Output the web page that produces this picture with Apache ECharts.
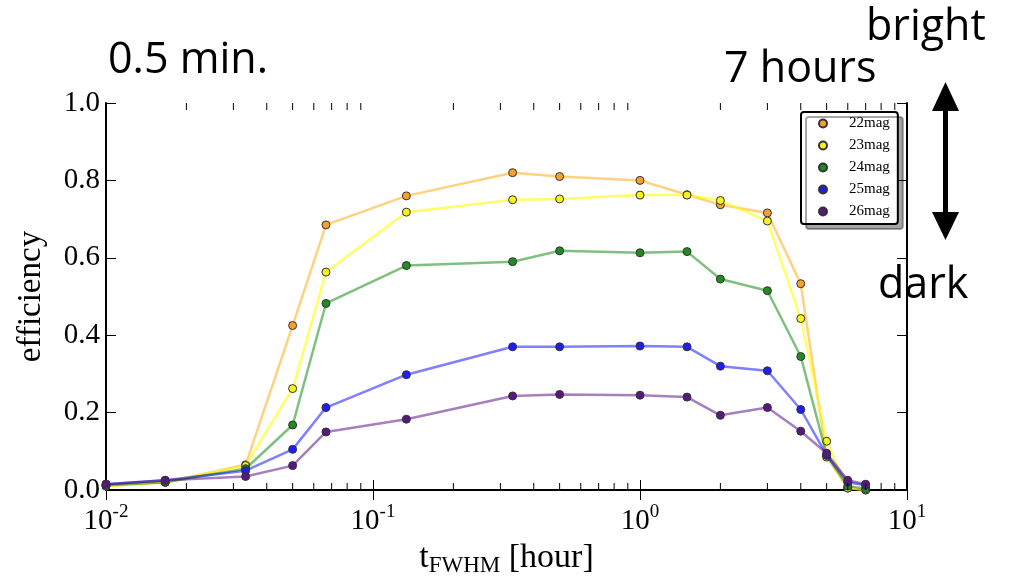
<!DOCTYPE html>
<html>
<head>
<meta charset="utf-8">
<script src="https://cdn.jsdelivr.net/npm/echarts@6/dist/echarts.min.js"></script>
<style>
  html, body { margin: 0; padding: 0; background: #fff; }
  #chart { width: 1010px; height: 576px; }
</style>
</head>
<body>
<div id="chart"></div>
<script>
// exposure durations in hours
const xHours = [0.01, 1 / 60, 2 / 60, 3 / 60, 4 / 60, 8 / 60, 20 / 60, 0.5, 1, 1.5, 2, 3, 4, 5, 6, 7];

const mag22 = [0.01, 0.02, 0.065, 0.425, 0.685, 0.76, 0.82, 0.81, 0.80, 0.763, 0.737, 0.716, 0.533, 0.085, 0.005, 0.0];
const mag23 = [0.01, 0.02, 0.063, 0.262, 0.563, 0.718, 0.75, 0.752, 0.762, 0.762, 0.748, 0.695, 0.443, 0.126, 0.005, 0.0];
const mag24 = [0.012, 0.02, 0.055, 0.168, 0.482, 0.58, 0.59, 0.618, 0.613, 0.616, 0.545, 0.515, 0.345, 0.09, 0.01, 0.003];
const mag25 = [0.015, 0.025, 0.05, 0.105, 0.213, 0.298, 0.37, 0.37, 0.372, 0.37, 0.32, 0.308, 0.208, 0.09, 0.02, 0.012];
const mag26 = [0.015, 0.025, 0.035, 0.063, 0.15, 0.183, 0.243, 0.247, 0.245, 0.24, 0.193, 0.213, 0.152, 0.095, 0.025, 0.015];

const seriesNames = ["22mag", "23mag", "24mag", "25mag", "26mag"];
const markerColors = ["#f7a030", "#f8f020", "#228a22", "#1e1ef0", "#56197f"];
const lineColors = ["rgba(255,165,0,0.5)", "rgba(255,255,0,0.6)", "rgba(0,128,0,0.5)", "rgba(0,0,255,0.5)", "rgba(75,0,130,0.5)"];

// minor tick positions on the log axis
const minorTicks = [];
[0.01, 0.1, 1].forEach(function (d) {
  for (let k = 2; k <= 9; k++) minorTicks.push(d * k);
});

const serif = "Liberation Serif";
const sans = "Open Sans";
const chart = echarts.init(document.getElementById("chart"));

function pair(xs, ys) {
  return xs.map(function (x, i) { return [x, ys[i]]; });
}

const allData = [mag22, mag23, mag24, mag25, mag26];

const lineSeries = seriesNames.map(function (name, i) {
  return {
    name: name,
    type: "line",
    data: pair(xHours, allData[i]),
    symbol: "circle",
    symbolSize: 8,
    z: 3 + i,
    lineStyle: { color: lineColors[i], width: 2.5 },
    itemStyle: { color: markerColors[i], borderColor: "#333", borderWidth: 1 },
    emphasis: { disabled: true },
    animation: false
  };
});

// short inward tick at the bottom (side 0) or top (side 1) edge
function minorTickSeries(side) {
  return {
    type: "custom",
    silent: true,
    z: 10,
    clip: false,
    data: minorTicks.map(function (v) { return [v, side]; }),
    renderItem: function (params, api) {
      const p = api.coord([api.value(0), api.value(1)]);
      const dir = side === 0 ? -1 : 1;
      return {
        type: "line",
        shape: { x1: p[0], y1: p[1], x2: p[0], y2: p[1] + dir * 7 },
        style: { stroke: "#000", lineWidth: 1 }
      };
    }
  };
}

const supLabel = function (v) {
  const e = Math.round(Math.log10(v));
  return "{b|10}{s|" + e + "}";
};

const tickRich = {
  b: { fontFamily: serif, fontSize: 29, color: "#000", verticalAlign: "bottom" },
  s: { fontFamily: serif, fontSize: 19, color: "#000", verticalAlign: "top", padding: [0, 0, 14, 0] }
};

const option = {
  backgroundColor: "#fff",
  animation: false,
  grid: { left: 106, right: 103, top: 103, bottom: 86, containLabel: false, outerBoundsMode: "none" },
  legend: {
    data: seriesNames,
    orient: "vertical",
    left: 801,
    top: 112,
    icon: "circle",
    itemWidth: 10,
    itemHeight: 8,
    itemGap: 7,
    padding: [4, 8, 5, 17],
    backgroundColor: "#fff",
    borderColor: "#000",
    borderWidth: 2,
    borderRadius: 3,
    shadowColor: "rgba(0,0,0,0.35)",
    shadowOffsetX: 5,
    shadowOffsetY: 5,
    shadowBlur: 0,
    textStyle: { fontFamily: serif, fontSize: 15, color: "#000", padding: [0, 0, 0, 16] },
    selectedMode: false
  },
  xAxis: [
    {
      type: "log",
      min: 0.01,
      max: 10,
      logBase: 10,
      position: "bottom",
      name: "{t|t}{sub|FWHM}{t| [hour]}",
      nameLocation: "middle",
      nameGap: 50,
      nameTextStyle: {
        rich: {
          t: { fontFamily: serif, fontSize: 34, color: "#000" },
          sub: { fontFamily: serif, fontSize: 23, color: "#000", verticalAlign: "bottom", padding: [14, 0, 0, 0] }
        }
      },
      axisLine: { lineStyle: { color: "#000", width: 2 } },
      axisTick: { inside: true, length: 10, lineStyle: { color: "#000", width: 1 } },
      axisLabel: { margin: 13, formatter: supLabel, rich: tickRich },
      splitLine: { show: false }
    },
    {
      type: "log",
      min: 0.01,
      max: 10,
      logBase: 10,
      position: "top",
      axisLine: { lineStyle: { color: "#000", width: 2 } },
      axisTick: { inside: true, length: 10, lineStyle: { color: "#000", width: 1 } },
      axisLabel: { show: false },
      splitLine: { show: false }
    }
  ],
  yAxis: [
    {
      type: "value",
      min: 0,
      max: 1,
      interval: 0.2,
      position: "left",
      name: "efficiency",
      nameLocation: "middle",
      nameGap: 58,
      nameTextStyle: { fontFamily: serif, fontSize: 33, color: "#000" },
      axisLine: { show: true, lineStyle: { color: "#000", width: 2 } },
      axisTick: { show: true, inside: true, length: 10, lineStyle: { color: "#000", width: 1 } },
      axisLabel: {
        fontFamily: serif, fontSize: 29, color: "#000", margin: 6,
        formatter: function (v) { return v.toFixed(1); }
      },
      splitLine: { show: false }
    },
    {
      type: "value",
      min: 0,
      max: 1,
      interval: 0.2,
      position: "right",
      axisLine: { show: true, lineStyle: { color: "#000", width: 2 } },
      axisTick: { show: true, inside: true, length: 10, lineStyle: { color: "#000", width: 1 } },
      axisLabel: { show: false },
      splitLine: { show: false }
    }
  ],
  series: lineSeries.concat([minorTickSeries(0), minorTickSeries(1)]),
  graphic: [
    { type: "text", left: 108, top: 39, style: { text: "0.5 min.", fontFamily: sans, fontSize: 43, fill: "#000" } },
    { type: "text", left: 724, top: 48, style: { text: "7 hours", fontFamily: sans, fontSize: 43, fill: "#000" } },
    { type: "text", left: 866, top: 6, style: { text: "bright", fontFamily: sans, fontSize: 43, fill: "#000" } },
    { type: "text", left: 878, top: 264, style: { text: "dark", fontFamily: sans, fontSize: 43, fill: "#000" } },
    { type: "rect", shape: { x: 943, y: 105, width: 5, height: 112 }, style: { fill: "#000" } },
    { type: "polygon", shape: { points: [[945.5, 82], [932, 111], [959, 111]] }, style: { fill: "#000" } },
    { type: "polygon", shape: { points: [[945.5, 240], [932, 212], [959, 212]] }, style: { fill: "#000" } }
  ]
};

chart.setOption(option);
</script>
</body>
</html>
